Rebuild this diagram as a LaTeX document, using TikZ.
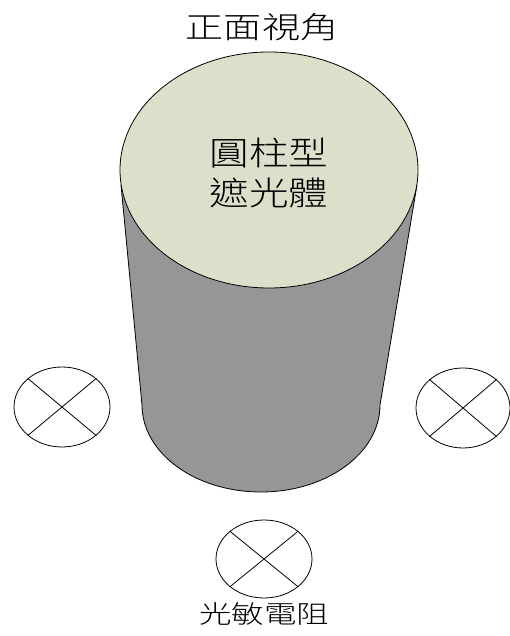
\documentclass[tikz,border=0pt]{standalone}
\usepackage{fontspec}
\newfontfamily\cjk{Noto Sans CJK TC Light}
\usetikzlibrary{shapes.geometric, positioning}
\definecolor{lidgreen}{RGB}{220,223,201}
\definecolor{bodygray}{RGB}{150,150,150}
\tikzset{
x=1pt, y=1pt, % one unit is one point
every node/.style={font=\cjk}, % all labels use the CJK family
sensor/.style={ellipse, draw=black, line width=0.8pt, fill=white, minimum width=96pt, minimum height=80pt, inner sep=0pt}, % photoresistor symbol
lid/.style={ellipse, draw=black, line width=0.8pt, fill=lidgreen, minimum width=298pt, minimum height=236pt, inner sep=0pt}, % top face of the cylinder
}

\begin{document}
\begin{tikzpicture}
        \useasboundingbox (0,0) rectangle (509,636);

        \node[xscale=1.27, font=\cjk\fontsize{30}{36}\selectfont] (title) at (262,609) {正面視角};

        % body of the cylinder
        \path[draw=black, line width=0.8pt, fill=bodygray] (121,451) -- (142,231)
        arc[start angle=180, end angle=360, x radius=119, y radius=87] -- (417,451);
        \node[lid] (top) at (269,466) {};
        \node[xscale=1.2, align=center, font=\cjk\fontsize{33}{40}\selectfont] (name) at (269,463) {圓柱型\\遮光體};

        \node[sensor] (sensorL) at (62,229) {};
        \node[sensor, minimum width=94pt] (sensorR) at (463,228) {};
        \node[sensor, minimum height=78pt] (sensorF) at (264,77) {};
        \node[below=1pt of sensorF, xscale=1.3, font=\cjk\fontsize{25}{30}\selectfont] (label) {光敏電阻};

        \foreach \s in {sensorL, sensorR, sensorF}
          \draw[line width=0.8pt] (\s.north west) -- (\s.south east)
          (\s.north east) -- (\s.south west);
      \end{tikzpicture}
\end{document}
